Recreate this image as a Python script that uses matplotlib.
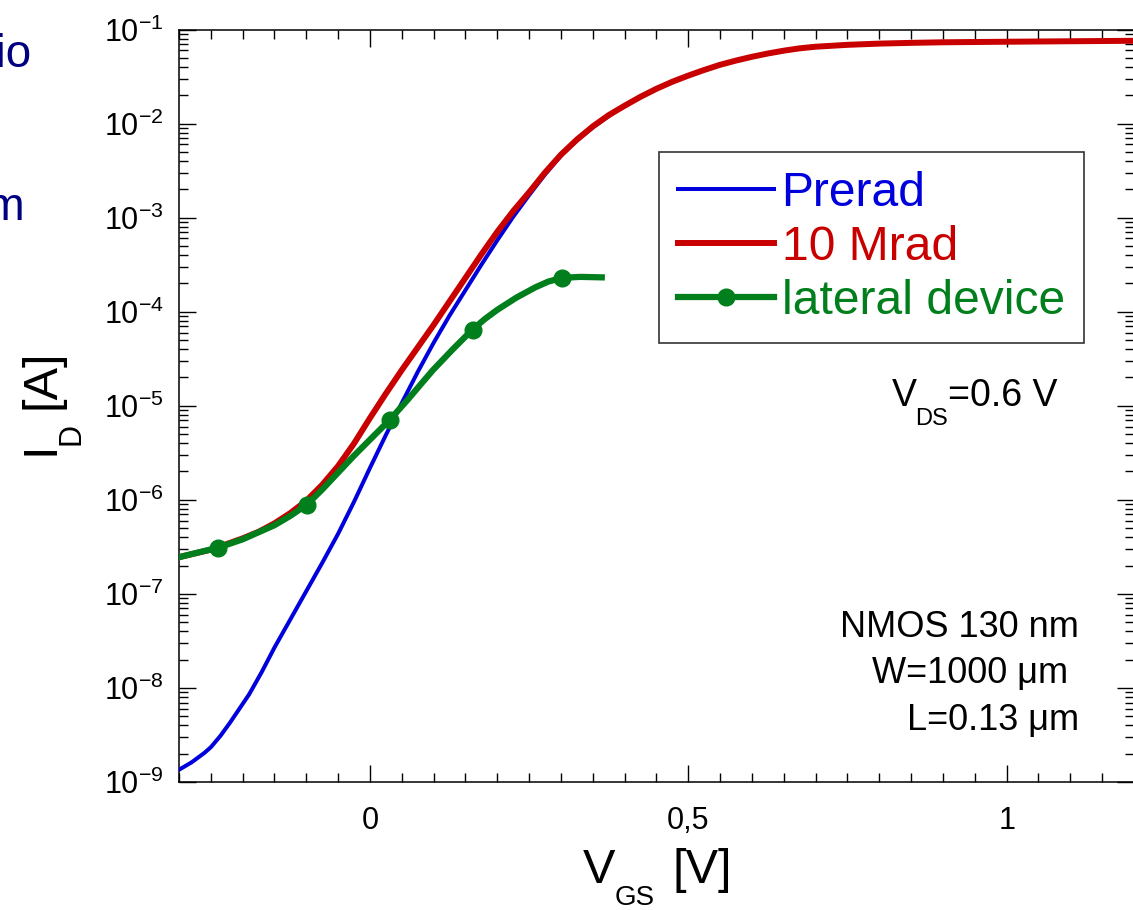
import matplotlib
matplotlib.use('Agg')
import matplotlib.pyplot as plt
from matplotlib.ticker import MultipleLocator, FixedLocator, FuncFormatter, LogLocator, NullFormatter

plt.rcParams['font.family'] = ['Liberation Sans', 'DejaVu Sans']
plt.rcParams['mathtext.fontset'] = 'custom'
plt.rcParams['mathtext.rm'] = 'Liberation Sans'
plt.rcParams['mathtext.default'] = 'regular'

# Transfer curves, V_GS in volts, drain current as log10(I_D / A)
vgs_prerad = [-0.30, -0.29, -0.28, -0.27, -0.26, -0.25, -0.235, -0.22, -0.205, -0.19, -0.17,
              -0.15, -0.125, -0.10, -0.075, -0.05, -0.025, 0.00, 0.025, 0.05, 0.075, 0.10,
              0.125, 0.15, 0.175, 0.20, 0.225, 0.25, 0.275, 0.30, 0.325, 0.35, 0.375, 0.40,
              0.425, 0.45, 0.475, 0.50, 0.525, 0.55, 0.575, 0.60, 0.625, 0.65, 0.675, 0.70,
              0.75, 0.80, 0.85, 0.90, 1.00, 1.10, 1.20]
logid_prerad = [-8.87, -8.83, -8.79, -8.74, -8.69, -8.63, -8.51, -8.37, -8.22, -8.07, -7.83,
                -7.57, -7.27, -6.97, -6.67, -6.36, -6.02, -5.66, -5.31, -4.97, -4.64, -4.33,
                -4.04, -3.77, -3.50, -3.24, -2.99, -2.76, -2.54, -2.34, -2.18, -2.04, -1.92, -1.81,
                -1.715, -1.63, -1.555, -1.49, -1.43, -1.375, -1.33, -1.29, -1.255, -1.225, -1.20,
                -1.183, -1.163, -1.15, -1.142, -1.136, -1.13, -1.125, -1.12]

vgs_10mrad = [-0.30, -0.275, -0.25, -0.225, -0.20, -0.175, -0.15, -0.125, -0.10, -0.075, -0.05,
              -0.025, 0.00, 0.025, 0.05, 0.075, 0.10, 0.125, 0.15, 0.175, 0.20, 0.225, 0.25,
              0.275, 0.30, 0.325, 0.35, 0.375, 0.40, 0.425, 0.45, 0.475, 0.50, 0.525, 0.55,
              0.575, 0.60, 0.625, 0.65, 0.675, 0.70, 0.75, 0.80, 0.85, 0.90, 1.00, 1.10, 1.20]
logid_10mrad = [-6.61, -6.57, -6.53, -6.47, -6.41, -6.34, -6.25, -6.14, -6.01, -5.84, -5.64,
                -5.40, -5.13, -4.87, -4.62, -4.38, -4.14, -3.89, -3.64, -3.39, -3.15, -2.93, -2.73,
                -2.52, -2.33, -2.17, -2.03, -1.91, -1.81, -1.715, -1.63, -1.555, -1.49, -1.43,
                -1.375, -1.33, -1.29, -1.255, -1.225, -1.20, -1.183, -1.163, -1.15, -1.142, -1.136,
                -1.13, -1.125, -1.12]

vgs_lateral = [-0.30, -0.27, -0.239, -0.20, -0.17, -0.15, -0.125, -0.099, -0.075, -0.05, -0.025,
               0.00, 0.031, 0.06, 0.08, 0.099, 0.13, 0.161, 0.18, 0.20, 0.23, 0.26, 0.28, 0.302,
               0.33, 0.364]
logid_lateral = [-6.61, -6.56, -6.51, -6.42, -6.33, -6.27, -6.17, -6.05, -5.89, -5.71, -5.53,
                 -5.36, -5.15, -4.93, -4.77, -4.62, -4.40, -4.19, -4.08, -3.98, -3.85, -3.74, -3.68,
                 -3.64, -3.63, -3.635]
lateral_markers = [2, 7, 12, 17, 23]

id_prerad = [10 ** v for v in logid_prerad]
id_10mrad = [10 ** v for v in logid_10mrad]
id_lateral = [10 ** v for v in logid_lateral]

BLUE = '#0000dc'
RED = '#c80000'
GREEN = '#007f1c'
NAVY = '#000080'

W, H = 1133, 910
fig = plt.figure(figsize=(W / 100, H / 100), dpi=100)
ax = fig.add_axes([179 / W, 1 - 782 / H, 955 / W, 752.5 / H])


def fx(px):
    return px / W


def fy(py):
    return 1 - py / H


ax.plot(vgs_prerad, id_prerad, color=BLUE, lw=2.9, label='Prerad', zorder=3)
ax.plot(vgs_10mrad, id_10mrad, color=RED, lw=4.3, label='10 Mrad', zorder=4)
ax.plot(vgs_lateral, id_lateral, color=GREEN, lw=4.5, marker='o', ms=12,
        markevery=lateral_markers, label='lateral device', zorder=5)

ax.set_yscale('log')
ax.set_xlim(-0.3, 1.2)
ax.set_ylim(1e-9, 1e-1)

ax.xaxis.set_major_locator(FixedLocator([0, 0.5, 1.0]))
ax.xaxis.set_minor_locator(MultipleLocator(0.05))
ax.xaxis.set_major_formatter(FuncFormatter(lambda v, p: ('%g' % v).replace('.', ',')))
ax.yaxis.set_major_locator(LogLocator(base=10, numticks=20))
ax.yaxis.set_minor_locator(LogLocator(base=10, subs=range(2, 10), numticks=20))
ax.yaxis.set_minor_formatter(NullFormatter())

ax.tick_params(which='both', direction='in', top=True, right=True, width=1.0, color='black')
ax.tick_params(which='major', length=12)
ax.tick_params(which='minor', length=6.5)
ax.tick_params(axis='x', which='major', labelsize=22, pad=17)
ax.tick_params(axis='y', which='major', labelsize=22, pad=11)
for s in ax.spines.values():
    s.set_linewidth(1.1)

leg = ax.legend(loc='upper left', bbox_to_anchor=(0.5026, 0.8372), borderaxespad=0,
                fontsize=34.6, handlelength=2.0, handletextpad=0.15, borderpad=0.40,
                labelspacing=0.18, fancybox=False, framealpha=1, labelcolor='linecolor')
leg.get_frame().set_edgecolor('#333333')
leg.get_frame().set_linewidth(1.2)

# axis titles with low-set subscripts
fig.text(fx(583), fy(883), 'V', fontsize=35, va='baseline', ha='left')
fig.text(fx(615), fy(905), 'GS', fontsize=20, va='baseline', ha='left')
fig.text(fx(673), fy(883), '[V]', fontsize=35, va='baseline', ha='left')

fig.text(fx(54), fy(455), 'I', fontsize=35, rotation=90, rotation_mode='anchor',
         va='baseline', ha='left')
fig.text(fx(80), fy(445), 'D', fontsize=22, rotation=90, rotation_mode='anchor',
         va='baseline', ha='left')
fig.text(fx(54), fy(409), '[A]', fontsize=35, rotation=90, rotation_mode='anchor',
         va='baseline', ha='left')

# bias and device notes
fig.text(fx(892), fy(406), 'V', fontsize=27, va='baseline', ha='left')
fig.text(fx(915), fy(425), 'DS', fontsize=17, va='baseline', ha='left')
fig.text(fx(948), fy(406), '=0.6 V', fontsize=27, va='baseline', ha='left')

fig.text(fx(1079), fy(637), 'NMOS 130 nm', fontsize=26, va='baseline', ha='right')
fig.text(fx(1078), fy(683), 'W=1000 μm ', fontsize=26, va='baseline', ha='right')
fig.text(fx(1079), fy(730), 'L=0.13 μm', fontsize=26, va='baseline', ha='right')

# text running in from the left page edge
fig.text(fx(31), fy(67), 'Ratio', fontsize=33, va='baseline', ha='right', color=NAVY)
fig.text(fx(26), fy(220), 'μm', fontsize=33, va='baseline', ha='right', color=NAVY)

fig.savefig('out.png', dpi=100)
